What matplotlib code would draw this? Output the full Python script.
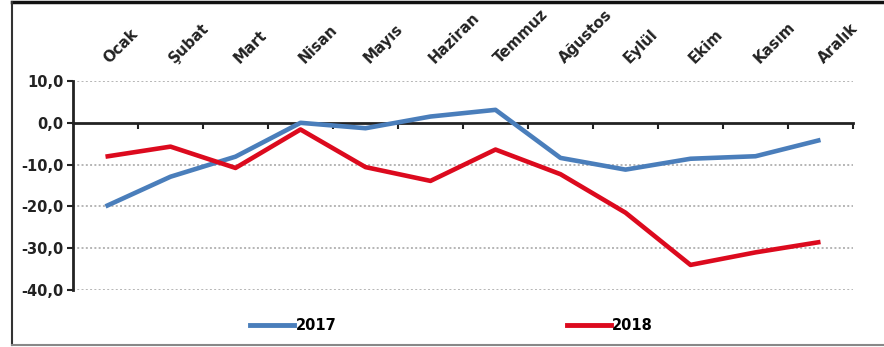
import matplotlib.pyplot as plt
import matplotlib.transforms as mtransforms
from matplotlib.lines import Line2D
import numpy as np

months = ['Ocak', 'Şubat', 'Mart', 'Nisan', 'Mayıs', 'Haziran',
          'Temmuz', 'Ağustos', 'Eylül', 'Ekim', 'Kasım', 'Aralık']
y2017 = [-20.0, -12.9, -8.1, 0.0, -1.3, 1.5, 3.1, -8.4, -11.2, -8.6, -8.0, -4.1]
y2018 = [-8.1, -5.7, -10.8, -1.6, -10.6, -13.9, -6.4, -12.3, -21.5, -34.0, -31.0, -28.5]
yticks = [10, 0, -10, -20, -30, -40]

blue = '#4A7EBB'
red = '#DC0A1E'

plt.rcParams['font.family'] = 'DejaVu Sans'
plt.rcParams['font.weight'] = 'bold'

fig = plt.figure(figsize=(8.84, 3.47), dpi=100)
W, H = 884, 347
ax = fig.add_axes([73 / W, (H - 290) / H, (853 - 73) / W, (290 - 81) / H])

x = np.arange(len(months)) + 0.5
ax.plot(x, y2017, color=blue, lw=3.3, solid_capstyle='butt', zorder=4, label='2017')
ax.plot(x, y2018, color=red, lw=3.3, solid_capstyle='butt', zorder=5, label='2018')

ax.set_xlim(0, len(months))
ax.set_ylim(-40, 10)

# horizontal axis sits on the zero line, ticks between months
for s in ['top', 'right']:
    ax.spines[s].set_visible(False)
ax.spines['bottom'].set_position(('data', 0))
ax.spines['bottom'].set_linewidth(2)
ax.spines['bottom'].set_color('#222222')
ax.spines['bottom'].set_zorder(3)
ax.spines['left'].set_linewidth(2)
ax.spines['left'].set_color('#222222')

ax.set_xticks(np.arange(1, len(months) + 1))
ax.set_xticklabels([])
ax.tick_params(axis='x', direction='out', length=4, width=1.5, color='#222222')

ax.set_yticks(yticks)
ax.set_yticklabels([f'{v:.1f}'.replace('.', ',') for v in yticks], fontsize=10.5,
                   fontweight='bold', color='#222222')
ax.tick_params(axis='y', direction='out', length=4, width=1.5, color='#222222', pad=3)

for v in yticks:
    if v != 0:
        ax.axhline(v, color='#B5B5B5', lw=1.4, ls=(0, (1, 1.2)), zorder=1)

# month names above the plot, slanted
trans = mtransforms.blended_transform_factory(ax.transData, ax.transAxes)
for xi, m in zip(x, months):
    ax.text(xi + 0.06, 1.08, m, transform=trans, rotation=45, rotation_mode='anchor',
            ha='left', va='baseline', fontsize=10.8, fontweight='bold', color='#222222')

handles = [Line2D([], [], color=blue, lw=3.5), Line2D([], [], color=red, lw=3.5)]
fig.legend(handles, ['2017', '2018'], loc='center', bbox_to_anchor=(0.511, 0.062),
           ncol=2, frameon=False, handlelength=3.0, handletextpad=0.1,
           columnspacing=15.8, prop={'size': 10.5, 'weight': 'bold'})

# outer frame
fig.add_artist(Line2D([11.5 / W, 1], [1 - 1.5 / H, 1 - 1.5 / H], transform=fig.transFigure,
                      color='#111111', lw=2.5))
fig.add_artist(Line2D([11.5 / W, 11.5 / W], [2 / H, 1 - 1.5 / H], transform=fig.transFigure,
                      color='#333333', lw=1.5))
fig.add_artist(Line2D([11.5 / W, 1], [2 / H, 2 / H], transform=fig.transFigure,
                      color='#888888', lw=1.5))

fig.savefig('out.png', dpi=100)
